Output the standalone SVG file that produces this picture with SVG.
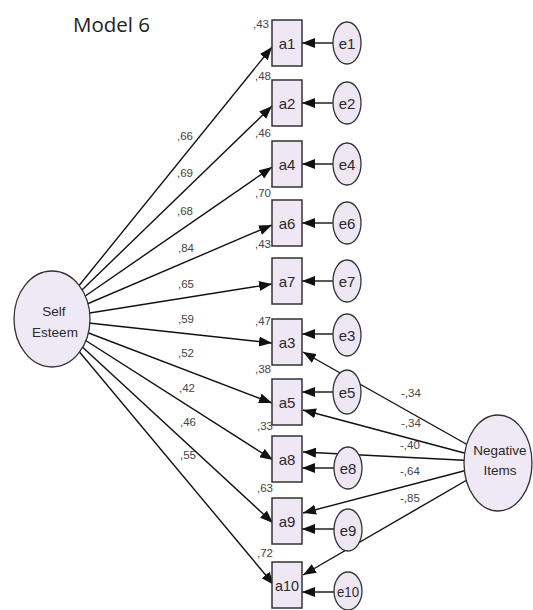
<svg xmlns="http://www.w3.org/2000/svg" width="533" height="610" viewBox="0 0 533 610">
<defs>
<marker id="ah" markerUnits="userSpaceOnUse" markerWidth="14" markerHeight="11" refX="13" refY="5" orient="auto">
<path d="M0,0 L13,5 L0,10 Z" fill="#111"/>
</marker>
</defs>
<style>
.box{fill:#efe7f3;stroke:#333;stroke-width:1.5}
.ell{fill:#eee6f3;stroke:#333;stroke-width:1.3}
.lat{fill:#efe8f5;stroke:#333;stroke-width:1.3}
.ln{stroke:#111;stroke-width:1.4;fill:none;marker-end:url(#ah)}
.nt{font-family:"Liberation Sans",Arial,sans-serif;font-size:15px;fill:#2a2a2a;text-anchor:middle}
.lt{font-family:"Liberation Sans",Arial,sans-serif;font-size:13.5px;fill:#2a2a2a;text-anchor:middle}
.cf{font-family:"Liberation Sans",Arial,sans-serif;font-size:11.5px;fill:#444}
.tt{font-family:"Open Sans","Liberation Sans",sans-serif;font-size:20.5px;fill:#222}
</style>
<rect width="533" height="610" fill="#fff"/>
<text class="tt" x="73" y="32">Model 6</text>
<g id="connectors">
<line class="ln" x1="52" y1="319" x2="272" y2="47"/>
<line class="ln" x1="52" y1="319" x2="272" y2="106"/>
<line class="ln" x1="52" y1="319" x2="272" y2="167"/>
<line class="ln" x1="52" y1="319" x2="272" y2="225"/>
<line class="ln" x1="52" y1="319" x2="272" y2="284"/>
<line class="ln" x1="52" y1="319" x2="272" y2="343"/>
<line class="ln" x1="52" y1="319" x2="272" y2="403"/>
<line class="ln" x1="52" y1="319" x2="273" y2="460"/>
<line class="ln" x1="52" y1="319" x2="273" y2="523"/>
<line class="ln" x1="52" y1="319" x2="274" y2="585"/>
<line class="ln" x1="498" y1="462" x2="303" y2="352"/>
<line class="ln" x1="498" y1="462" x2="303" y2="410"/>
<line class="ln" x1="498" y1="462" x2="303" y2="452"/>
<line class="ln" x1="498" y1="462" x2="303" y2="513"/>
<line class="ln" x1="498" y1="462" x2="303" y2="575"/>
<line class="ln" x1="333" y1="43" x2="302" y2="43"/>
<line class="ln" x1="333" y1="103" x2="302" y2="103"/>
<line class="ln" x1="333" y1="164" x2="302" y2="164"/>
<line class="ln" x1="333" y1="223" x2="302" y2="223"/>
<line class="ln" x1="333" y1="281" x2="302" y2="281"/>
<line class="ln" x1="333" y1="334" x2="302" y2="334"/>
<line class="ln" x1="333" y1="392" x2="302" y2="392"/>
<line class="ln" x1="334" y1="468" x2="302" y2="468"/>
<line class="ln" x1="334" y1="529" x2="302" y2="529"/>
<line class="ln" x1="334" y1="592" x2="302" y2="592"/>
<text class="cf" x="177" y="140">,66</text>
<text class="cf" x="177" y="177">,69</text>
<text class="cf" x="177" y="215">,68</text>
<text class="cf" x="178" y="252">,84</text>
<text class="cf" x="178" y="288">,65</text>
<text class="cf" x="178" y="323">,59</text>
<text class="cf" x="178" y="357">,52</text>
<text class="cf" x="179" y="392">,42</text>
<text class="cf" x="180" y="426">,46</text>
<text class="cf" x="180" y="459">,55</text>
<text class="cf" x="401" y="397">-,34</text>
<text class="cf" x="401" y="427">-,34</text>
<text class="cf" x="400" y="449">-,40</text>
<text class="cf" x="400" y="475">-,64</text>
<text class="cf" x="400" y="502">-,85</text>
</g>
<g id="SelfEsteem"><ellipse class="lat" cx="52" cy="319" rx="38" ry="48"/><text class="lt" x="54" y="316">Self</text><text class="lt" x="55" y="337">Esteem</text></g>
<g id="NegativeItems"><ellipse class="lat" cx="498" cy="463" rx="34" ry="48"/><text class="lt" x="500" y="455">Negative</text><text class="lt" x="500" y="475">Items</text></g>
<g id="a1"><rect class="box" x="272" y="20" width="30" height="46"/><text class="nt" x="287" y="49">a1</text><text class="cf" x="253" y="28">,43</text></g>
<g id="a2"><rect class="box" x="272" y="80" width="30" height="46"/><text class="nt" x="287" y="109">a2</text><text class="cf" x="255" y="80">,48</text></g>
<g id="a4"><rect class="box" x="272" y="141" width="30" height="46"/><text class="nt" x="287" y="170">a4</text><text class="cf" x="255" y="137">,46</text></g>
<g id="a6"><rect class="box" x="272" y="200" width="30" height="46"/><text class="nt" x="287" y="229">a6</text><text class="cf" x="255" y="197">,70</text></g>
<g id="a7"><rect class="box" x="272" y="258" width="30" height="46"/><text class="nt" x="287" y="287">a7</text><text class="cf" x="255" y="248">,43</text></g>
<g id="a3"><rect class="box" x="272" y="319" width="30" height="46"/><text class="nt" x="287" y="348">a3</text><text class="cf" x="255" y="325">,47</text></g>
<g id="a5"><rect class="box" x="272" y="379" width="30" height="46"/><text class="nt" x="287" y="408">a5</text><text class="cf" x="255" y="373">,38</text></g>
<g id="a8"><rect class="box" x="272" y="436" width="30" height="46"/><text class="nt" x="287" y="465">a8</text><text class="cf" x="257" y="430">,33</text></g>
<g id="a9"><rect class="box" x="272" y="498" width="30" height="46"/><text class="nt" x="287" y="527">a9</text><text class="cf" x="257" y="492">,63</text></g>
<g id="a10"><rect class="box" x="272" y="562" width="30" height="46"/><text class="nt" x="287" y="591" textLength="24" lengthAdjust="spacingAndGlyphs">a10</text><text class="cf" x="257" y="557">,72</text></g>
<g id="e1"><ellipse class="ell" cx="347" cy="43" rx="14" ry="21"/><text class="nt" x="347" y="49">e1</text></g>
<g id="e2"><ellipse class="ell" cx="347" cy="103" rx="14" ry="21"/><text class="nt" x="347" y="109">e2</text></g>
<g id="e4"><ellipse class="ell" cx="347" cy="164" rx="14" ry="21"/><text class="nt" x="347" y="170">e4</text></g>
<g id="e6"><ellipse class="ell" cx="347" cy="223" rx="14" ry="21"/><text class="nt" x="347" y="229">e6</text></g>
<g id="e7"><ellipse class="ell" cx="347" cy="281" rx="14" ry="21"/><text class="nt" x="347" y="287">e7</text></g>
<g id="e3"><ellipse class="ell" cx="347" cy="335" rx="14" ry="21"/><text class="nt" x="347" y="341">e3</text></g>
<g id="e5"><ellipse class="ell" cx="347" cy="392" rx="14" ry="22"/><text class="nt" x="347" y="398">e5</text></g>
<g id="e8"><ellipse class="ell" cx="348" cy="468" rx="14" ry="21"/><text class="nt" x="348" y="474">e8</text></g>
<g id="e9"><ellipse class="ell" cx="348" cy="530" rx="14" ry="21"/><text class="nt" x="348" y="536">e9</text></g>
<g id="e10"><ellipse class="ell" cx="348" cy="591" rx="14" ry="19"/><text class="nt" x="348" y="597" textLength="22" lengthAdjust="spacingAndGlyphs">e10</text></g>
</svg>
